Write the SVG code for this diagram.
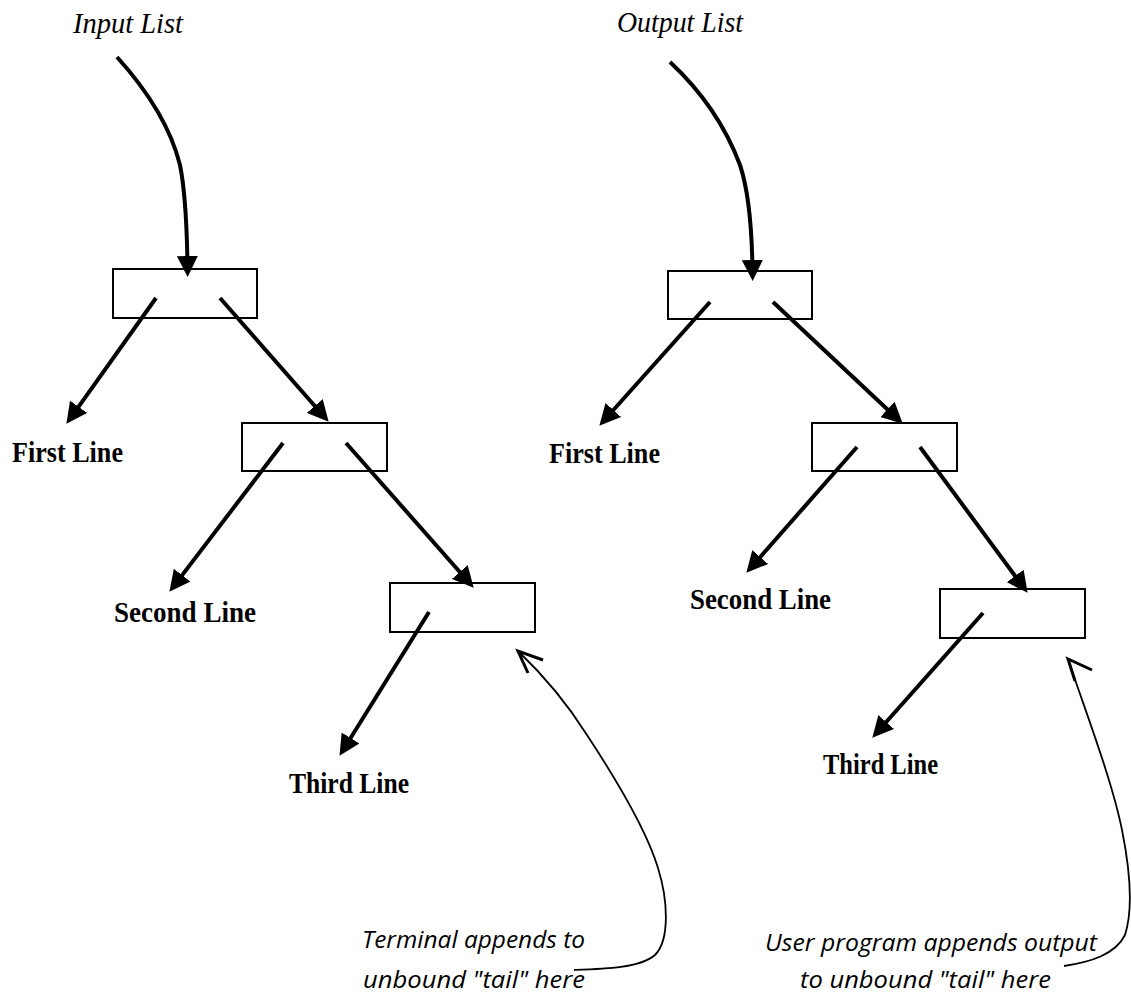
<svg xmlns="http://www.w3.org/2000/svg" width="1131" height="999" viewBox="0 0 1131 999">
<style>
.box{fill:none;stroke:#000;stroke-width:2}
.arr{fill:none;stroke:#000;stroke-width:4;marker-end:url(#ah)}
.thin{fill:none;stroke:#000;stroke-width:1.8}
.barb{fill:none;stroke:#000;stroke-width:3;stroke-linejoin:miter}
.title{font-family:"Liberation Serif","Times New Roman",serif;font-style:italic;font-size:30px;fill:#000}
.lbl{font-family:"Liberation Serif","Times New Roman",serif;font-weight:bold;font-size:30px;fill:#000}
.note{font-family:"Open Sans","Noto Sans",sans-serif;font-style:italic;font-size:24px;fill:#000}
</style>
<defs>
<marker id="ah" markerUnits="userSpaceOnUse" markerWidth="21" markerHeight="21" refX="10" refY="10.5" orient="auto">
<path d="M0,0 L21,10.5 L0,21 z" fill="#000"/>
</marker>
</defs>
<rect width="1131" height="999" fill="#fff"/>

<g id="input-list"><text class="title" x="73" y="33" textLength="110" lengthAdjust="spacingAndGlyphs">Input List</text></g>
<g id="output-list"><text class="title" x="617" y="32" textLength="126" lengthAdjust="spacingAndGlyphs">Output List</text></g>

<g id="in-box1"><rect class="box" x="113" y="269" width="144" height="49"/></g>
<g id="in-box2"><rect class="box" x="242" y="423" width="145" height="48"/></g>
<g id="in-box3"><rect class="box" x="390" y="583" width="145" height="49"/></g>
<g id="out-box1"><rect class="box" x="668" y="271" width="144" height="48"/></g>
<g id="out-box2"><rect class="box" x="812" y="423" width="145" height="48"/></g>
<g id="out-box3"><rect class="box" x="940" y="589" width="145" height="49"/></g>

<g id="in-first"><text class="lbl" x="12" y="462" textLength="111" lengthAdjust="spacingAndGlyphs">First Line</text></g>
<g id="in-second"><text class="lbl" x="114" y="622" textLength="142" lengthAdjust="spacingAndGlyphs">Second Line</text></g>
<g id="in-third"><text class="lbl" x="289" y="793" textLength="120" lengthAdjust="spacingAndGlyphs">Third Line</text></g>
<g id="out-first"><text class="lbl" x="549" y="463" textLength="111" lengthAdjust="spacingAndGlyphs">First Line</text></g>
<g id="out-second"><text class="lbl" x="690" y="609" textLength="141" lengthAdjust="spacingAndGlyphs">Second Line</text></g>
<g id="out-third"><text class="lbl" x="823" y="774" textLength="115" lengthAdjust="spacingAndGlyphs">Third Line</text></g>

<g id="in-note">
<text class="note" x="362" y="948" textLength="223" lengthAdjust="spacingAndGlyphs">Terminal appends to</text>
<text class="note" x="363" y="988" textLength="222" lengthAdjust="spacingAndGlyphs">unbound "tail" here</text>
</g>
<g id="out-note">
<text class="note" x="765" y="951" textLength="332" lengthAdjust="spacingAndGlyphs">User program appends output</text>
<text class="note" x="800" y="988" textLength="251" lengthAdjust="spacingAndGlyphs">to unbound "tail" here</text>
</g>

<g id="connectors">
<path class="arr" d="M117,57 C145,88 170,125 180,165 C186,195 187,230 187.5,266"/>
<path class="arr" d="M156,298 L72.8,414.9"/>
<path class="arr" d="M220,298 L321.4,413.5"/>
<path class="arr" d="M283,443 L176.1,583.1"/>
<path class="arr" d="M346,443 L466.4,579.5"/>
<path class="arr" d="M429,612 L345.3,746.5"/>

<path class="arr" d="M670,62 C700,90 725,125 740,165 C750,195 752,235 752.5,270"/>
<path class="arr" d="M710,302 L606.7,417.5"/>
<path class="arr" d="M773,302 L894.7,416.2"/>
<path class="arr" d="M857,447 L753.6,564.5"/>
<path class="arr" d="M920,447 L1021.1,584"/>
<path class="arr" d="M983,613 L879.6,729.5"/>

<path class="thin" d="M574,970 C605,969 640,968 655,955 C670,940 668,900 658,868 C645,825 610,770 587,735 C565,700 540,672 518,651"/>
<path class="barb" d="M543,660 L518,651 L528,673"/>
<path class="thin" d="M1064,966 C1090,962 1115,955 1125,935 C1133,910 1130,870 1122,830 C1112,780 1085,710 1068,659"/>
<path class="barb" d="M1092,670 L1068,659 L1075,681"/>
</g>
</svg>
